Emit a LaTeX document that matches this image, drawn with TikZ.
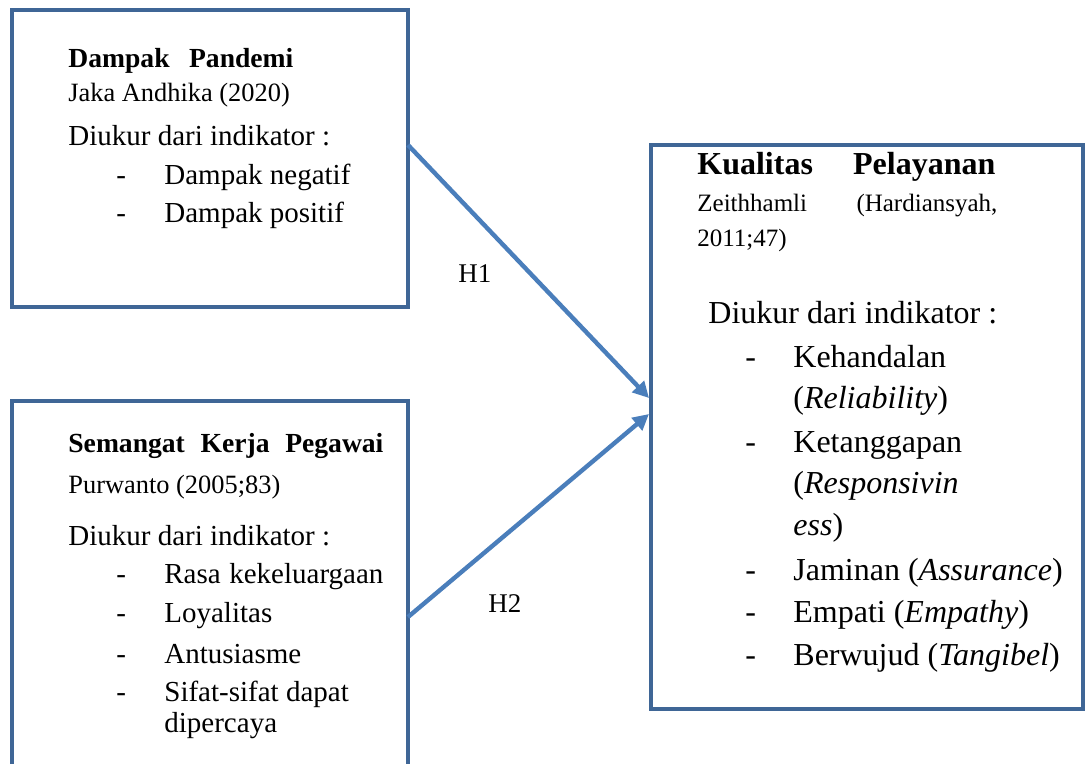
\documentclass[tikz,border=0pt]{standalone}
\usepackage{fontspec}
\setmainfont{Liberation Serif}
\usetikzlibrary{arrows.meta, calc}
\definecolor{boxblue}{HTML}{3F6696}
\definecolor{arrblue}{HTML}{4A7EBB}
\tikzset{
  panel/.style={
    rectangle, draw=boxblue, line width=2.3pt, inner sep=0pt,
    outer sep=0pt, anchor=north west
  },
  txt/.style={anchor=base west, inner sep=0pt, text=black},
  head/.style={txt, font=\fontsize{13.8}{16}\selectfont\bfseries},
  bighead/.style={txt, font=\fontsize{16}{19}\selectfont\bfseries},
  cite/.style={txt, font=\fontsize{13.2}{15}\selectfont},
  bigcite/.style={txt, font=\fontsize{12.5}{15}\selectfont},
  body/.style={txt, font=\fontsize{14.5}{17}\selectfont},
  bigbody/.style={txt, font=\fontsize{16}{19}\selectfont},
  arr/.style={-{Triangle[length=8pt, width=8pt]}, line width=2.2pt, arrblue},
}

\begin{document}
\begin{tikzpicture}[x=0.5pt, y=-0.5pt]
\useasboundingbox (0,0) rectangle (1085,764);
\clip (0,0) rectangle (1085,764);

% --- Boxes ---
\node[panel, minimum width=198pt, minimum height=148.5pt] (dampak) at (12,10) {};
\node[panel, minimum width=198pt, minimum height=194.5pt] (semangat) at (12,401) {};
\node[panel, minimum width=216pt, minimum height=282pt] (kualitas) at (651,145) {};

% --- Dampak Pandemi ---
\node[head] (dHead) at (68,68) {\makebox[112.5pt][s]{Dampak Pandemi}};
\node[cite] (dCite) at (68,102) {Jaka Andhika (2020)};
\node[body] (dInd) at (68,146) {Diukur dari indikator :};
\node[body] (dDash1) at (116,185) {-};
\node[body] (dItem1) at (164,185) {Dampak negatif};
\node[body] (dDash2) at (116,223) {-};
\node[body] (dItem2) at (164,223) {Dampak positif};

% --- Semangat Kerja Pegawai ---
\node[head] (sHead) at (68,452) {\makebox[157.5pt][s]{Semangat Kerja Pegawai}};
\node[cite] (sCite) at (68,493) {Purwanto (2005;83)};
\node[body] (sInd) at (68,545) {Diukur dari indikator :};
\node[body] (sDash1) at (116,583) {-};
\node[body] (sItem1) at (164,583) {\makebox[109.5pt][s]{Rasa kekeluargaan}};
\node[body] (sDash2) at (116,622) {-};
\node[body] (sItem2) at (164,622) {Loyalitas};
\node[body] (sDash3) at (116,663) {-};
\node[body] (sItem3) at (164,663) {Antusiasme};
\node[body] (sDash4) at (116,701) {-};
\node[body] (sItem4) at (164,701) {Sifat-sifat dapat};
\node[body] (sItem4b) at (164,732) {dipercaya};

% --- Kualitas Pelayanan ---
\node[bighead] (kHead) at (697,175) {\makebox[149pt][s]{Kualitas Pelayanan}};
\node[bigcite] (kCite) at (697,212) {\makebox[150pt][s]{Zeithhamli (Hardiansyah,}};
\node[bigcite] (kCiteb) at (697,247) {2011;47)};
\node[bigbody] (kInd) at (708,323) {Diukur dari indikator :};
\node[bigbody] (kDash1) at (745,367) {-};
\node[bigbody] (kItem1) at (793,367) {Kehandalan};
\node[bigbody] (kItem1b) at (793,408) {(\textit{Reliability})};
\node[bigbody] (kDash2) at (745,452) {-};
\node[bigbody] (kItem2) at (793,452) {Ketanggapan};
\node[bigbody] (kItem2b) at (793,493) {(\textit{Responsivin}};
\node[bigbody] (kItem2c) at (793,535) {\textit{ess})};
\node[bigbody] (kDash3) at (745,580) {-};
\node[bigbody] (kItem3) at (793,580) {Jaminan (\textit{Assurance})};
\node[bigbody] (kDash4) at (745,622) {-};
\node[bigbody] (kItem4) at (793,622) {Empati (\textit{Empathy})};
\node[bigbody] (kDash5) at (745,665) {-};
\node[bigbody] (kItem5) at (793,665) {Berwujud (\textit{Tangibel})};

% --- Hypotheses ---
\draw[arr] ($(dampak.east)+(0,-13.5)$) -- ($(kualitas.west)+(-2,-29)$);
\draw[arr] ($(semangat.east)+(0,21.5)$) -- ($(kualitas.west)+(-2,-13)$);
\node[body, font=\fontsize{13.5}{16}\selectfont] (h1) at (458,283) {H1};
\node[body, font=\fontsize{13.5}{16}\selectfont] (h2) at (488,612) {H2};

\end{tikzpicture}
\end{document}
